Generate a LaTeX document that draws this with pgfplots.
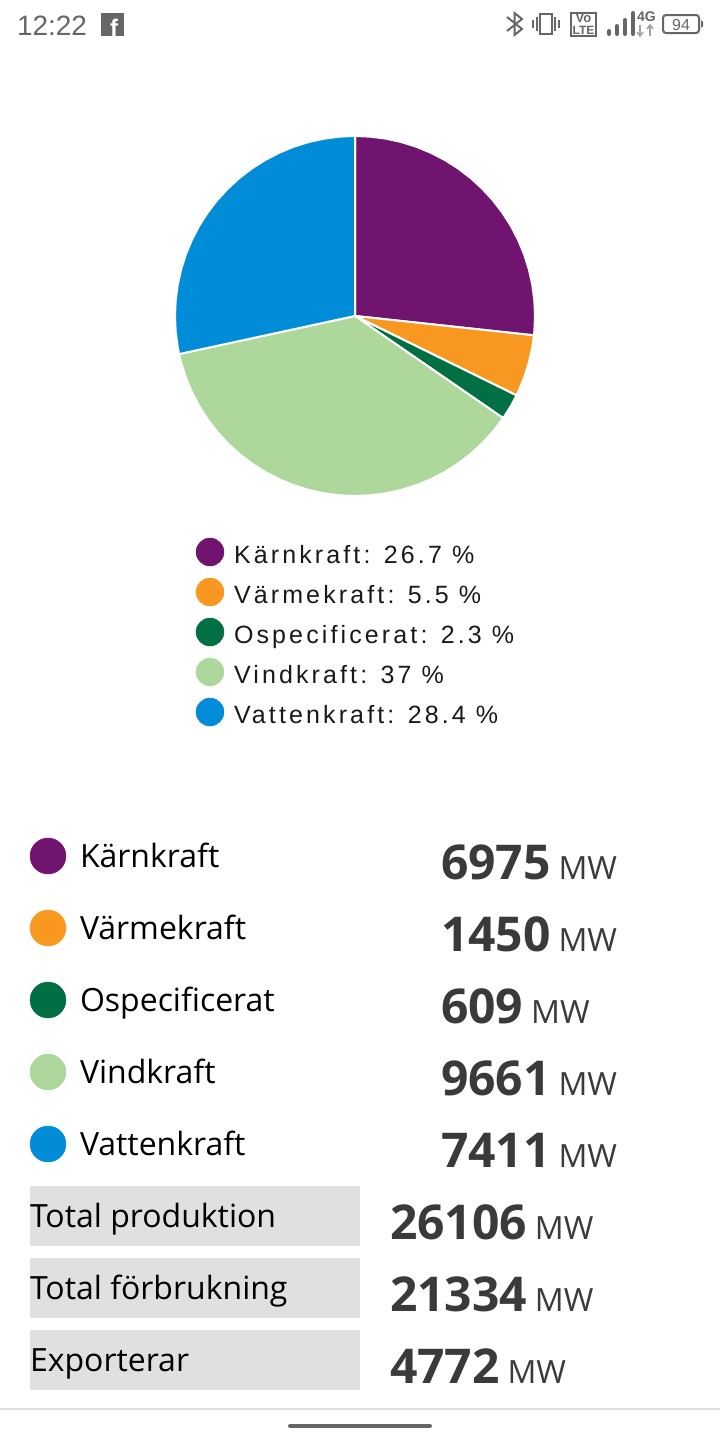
\documentclass[border=0pt]{standalone}
\usepackage{fontspec}
\usepackage{pgfplots}
\pgfplotsset{compat=1.18}
\setmainfont{Open Sans}
\newfontfamily\legendfont[LetterSpace=12.5]{Liberation Sans}
\newfontfamily\statfont{Liberation Sans}
\definecolor{karn}{HTML}{701470}
\definecolor{varme}{HTML}{F99820}
\definecolor{osp}{HTML}{006F44}
\definecolor{vind}{HTML}{ADD79B}
\definecolor{vatten}{HTML}{008CD6}
\definecolor{rowbg}{HTML}{E0E0E0}
\definecolor{numc}{HTML}{3A3A3A}
\definecolor{stat}{HTML}{666666}
\newcommand{\fs}[1]{\fontsize{#1}{#1}\selectfont}
\tikzset{t/.style={inner sep=0pt, outer sep=0pt, anchor=base west},
  c/.style={inner sep=0pt, outer sep=0pt, anchor=base}}
\pgfplotsset{
  screen/.style={hide axis, scale only axis, width=720pt, height=1440pt, clip=false},
  slice/.style={fill=#1, draw=white, line width=2pt, line join=round, data cs=polar},
  dot/.style={only marks, mark=*, mark size=#1, mark options={draw=none}},
}
\begin{document}
\begin{tikzpicture}
% pie: origin of this axis is the pie centre, coordinates are (angle, radius)
\begin{axis}[screen, xmin=-355, xmax=365, ymin=-1124, ymax=316]
\addplot[slice=karn] coordinates {(0,0) (90,180) (85,180) (80,180) (75,180) (70,180) (65,180) (60,180) (55,180) (50,180) (45,180) (40,180) (35,180) (30,180) (25,180) (20,180) (15,180) (10,180) (5,180) (0,180) (-5,180) (-6.18,180) (0,0)};
\addplot[slice=varme] coordinates {(0,0) (-6.18,180) (-10,180) (-15,180) (-20,180) (-25,180) (-26.18,180) (0,0)};
\addplot[slice=osp] coordinates {(0,0) (-26.18,180) (-30,180) (-34.58,180) (0,0)};
\addplot[slice=vind] coordinates {(0,0) (-34.58,180) (-40,180) (-45,180) (-50,180) (-55,180) (-60,180) (-65,180) (-70,180) (-75,180) (-80,180) (-85,180) (-90,180) (-95,180) (-100,180) (-105,180) (-110,180) (-115,180) (-120,180) (-125,180) (-130,180) (-135,180) (-140,180) (-145,180) (-150,180) (-155,180) (-160,180) (-165,180) (-167.78,180) (0,0)};
\addplot[slice=vatten] coordinates {(0,0) (-167.78,180) (-170,180) (-175,180) (-180,180) (-185,180) (-190,180) (-195,180) (-200,180) (-205,180) (-210,180) (-215,180) (-220,180) (-225,180) (-230,180) (-235,180) (-240,180) (-245,180) (-250,180) (-255,180) (-260,180) (-265,180) (-270,180) (0,0)};
\end{axis}
% everything else in screen pixels
\begin{axis}[screen, xmin=0, xmax=720, ymin=0, ymax=1440, y dir=reverse]
% legend under the pie
\addplot[dot=14pt, karn] coordinates {(210,552)};
\addplot[dot=14pt, varme] coordinates {(210,592)};
\addplot[dot=14pt, osp] coordinates {(210,632)};
\addplot[dot=14pt, vind] coordinates {(210,672)};
\addplot[dot=14pt, vatten] coordinates {(210,712)};
\node[t, text=black!90] at (axis cs:234,563) {\legendfont\fs{25}Kärnkraft: 26.7 \%};
\node[t, text=black!90] at (axis cs:234,603) {\legendfont\fs{25}Värmekraft: 5.5 \%};
\node[t, text=black!90] at (axis cs:234,643) {\legendfont\fs{25}Ospecificerat: 2.3 \%};
\node[t, text=black!90] at (axis cs:234,683) {\legendfont\fs{25}Vindkraft: 37 \%};
\node[t, text=black!90] at (axis cs:234,723) {\legendfont\fs{25}Vattenkraft: 28.4 \%};
% table
\addplot[dot=18pt, karn] coordinates {(48,856)};
\addplot[dot=18pt, varme] coordinates {(48,928)};
\addplot[dot=18pt, osp] coordinates {(48,1000)};
\addplot[dot=18pt, vind] coordinates {(48,1072)};
\addplot[dot=18pt, vatten] coordinates {(48,1144)};
\addplot[fill=rowbg, draw=none] coordinates {(30,1186) (360,1186) (360,1246) (30,1246)} -- cycle;
\addplot[fill=rowbg, draw=none] coordinates {(30,1258) (360,1258) (360,1318) (30,1318)} -- cycle;
\addplot[fill=rowbg, draw=none] coordinates {(30,1330) (360,1330) (360,1390) (30,1390)} -- cycle;
\node[t] at (axis cs:80,867) {\fs{32}Kärnkraft};
\node[t] at (axis cs:80,939) {\fs{32}Värmekraft};
\node[t] at (axis cs:80,1011) {\fs{32}Ospecificerat};
\node[t] at (axis cs:80,1083) {\fs{32}Vindkraft};
\node[t] at (axis cs:80,1155) {\fs{32}Vattenkraft};
\node[t] at (axis cs:30,1227) {\fs{32}Total produktion};
\node[t] at (axis cs:30,1299) {\fs{32}Total förbrukning};
\node[t] at (axis cs:30,1371) {\fs{32}Exporterar};
\node[t, text=numc] at (axis cs:441,879) {\fs{48}\bfseries 6975\,\mdseries\fs{32}MW};
\node[t, text=numc] at (axis cs:441,951) {\fs{48}\bfseries 1450\,\mdseries\fs{32}MW};
\node[t, text=numc] at (axis cs:441,1023) {\fs{48}\bfseries 609\,\mdseries\fs{32}MW};
\node[t, text=numc] at (axis cs:441,1095) {\fs{48}\bfseries 9661\,\mdseries\fs{32}MW};
\node[t, text=numc] at (axis cs:441,1167) {\fs{48}\bfseries 7411\,\mdseries\fs{32}MW};
\node[t, text=numc] at (axis cs:390,1239) {\fs{48}\bfseries 26106\,\mdseries\fs{32}MW};
\node[t, text=numc] at (axis cs:390,1311) {\fs{48}\bfseries 21334\,\mdseries\fs{32}MW};
\node[t, text=numc] at (axis cs:390,1383) {\fs{48}\bfseries 4772\,\mdseries\fs{32}MW};
% status bar
\node[t, text=stat] at (axis cs:17,35) {\statfont\fs{28}12:22};
\addplot[fill=stat, draw=none] coordinates {(101,13) (124,13) (124,36) (101,36)} -- cycle;
\node[t, text=white] at (axis cs:110,36) {\statfont\bfseries\fs{24}f};
\addplot[stat, line width=2pt] coordinates {(507,17) (522,29) (514.5,35) (514.5,13) (522,19) (507,31)};
\addplot[stat, line width=2pt] coordinates {(540,14) (552,14) (552,34) (540,34)} -- cycle;
\addplot[stat, line width=1.5pt] coordinates {(533,20) (533,28)};
\addplot[stat, line width=1.5pt] coordinates {(537,17) (537,31)};
\addplot[stat, line width=1.5pt] coordinates {(555,17) (555,31)};
\addplot[stat, line width=1.5pt] coordinates {(559,20) (559,28)};
\addplot[stat, line width=2pt] coordinates {(571,13) (596,13) (596,36) (571,36)} -- cycle;
\node[c, text=stat] at (axis cs:583.5,23) {\statfont\bfseries\fs{13}Vo};
\node[c, text=stat] at (axis cs:583.5,34) {\statfont\bfseries\fs{12}LTE};
\addplot[stat, line width=4pt, line cap=round] coordinates {(609,31) (609,34)};
\addplot[stat, line width=4pt, line cap=round] coordinates {(617,26) (617,34)};
\addplot[stat, line width=4pt, line cap=round] coordinates {(625,20) (625,34)};
\addplot[stat, line width=4pt, line cap=round] coordinates {(633,13) (633,34)};
\node[t, text=stat] at (axis cs:637,21) {\statfont\bfseries\fs{14}4G};
\addplot[stat!60, line width=1.5pt] coordinates {(640,25) (640,36)};
\addplot[stat!60, line width=1.5pt] coordinates {(637,32) (640,36) (643,32)};
\addplot[stat!60, line width=1.5pt] coordinates {(650,25) (650,36)};
\addplot[stat!60, line width=1.5pt] coordinates {(647,29) (650,25) (653,29)};
\addplot[stat, line width=2pt, line join=round, rounded corners=3pt] coordinates {(663,15) (699,15) (699,33) (663,33)} -- cycle;
\addplot[fill=stat, draw=none] coordinates {(701,20) (703,22) (703,26) (701,28)} -- cycle;
\node[c, text=stat] at (axis cs:681,30) {\statfont\fs{16}94};
% navigation bar
\addplot[rowbg, line width=2pt] coordinates {(0,1409) (720,1409)};
\addplot[stat, line width=4pt, line cap=round] coordinates {(290,1426) (430,1426)};
\end{axis}
% page is exactly the screen
\pgfresetboundingbox
\path[use as bounding box] (0,0) rectangle (720pt,1440pt);
\end{tikzpicture}
\end{document}
